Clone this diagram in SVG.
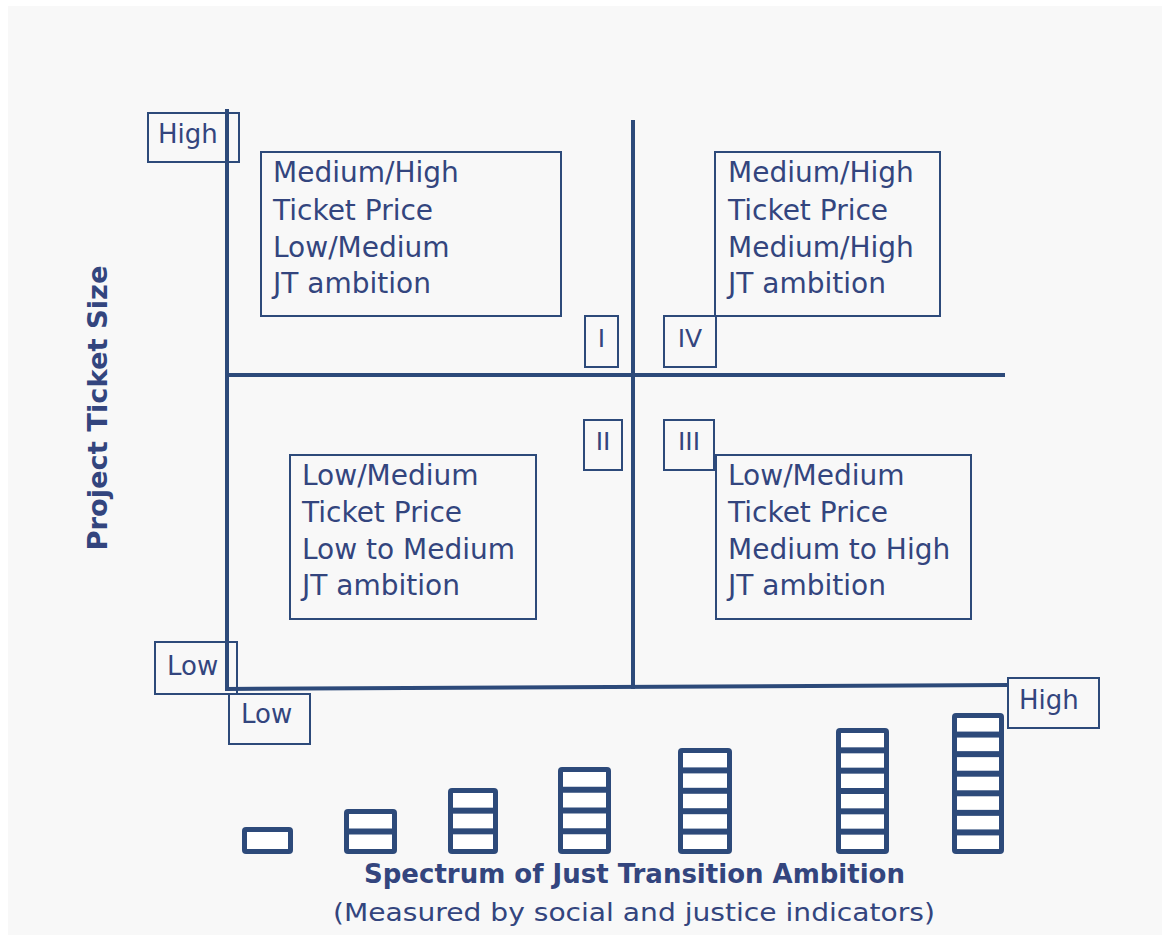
<svg xmlns="http://www.w3.org/2000/svg" width="1169" height="939" viewBox="0 0 1169 939">
<style>
.t{font-family:"DejaVu Sans","Liberation Sans",sans-serif;font-size:28px;fill:#33457e}
.lbl{font-family:"DejaVu Sans","Liberation Sans",sans-serif;font-size:26px;fill:#33457e}
.rn{font-family:"DejaVu Sans","Liberation Sans",sans-serif;font-size:25px;fill:#33457e}
.box{fill:none;stroke:#2d4a7a;stroke-width:2}
.ax{stroke:#2d4a7a;stroke-width:4;fill:none}
.bar{fill:#2d4a7a}
.cell{fill:#ffffff}
</style>
<rect x="0" y="0" width="1169" height="939" fill="#ffffff"/>
<rect x="8" y="6" width="1154" height="929" fill="#f8f8f8"/>

<g id="axes">
<line class="ax" x1="227" y1="109" x2="227" y2="691"/>
<path class="ax" d="M225 689 L1007 685"/>
<line class="ax" x1="633" y1="120" x2="633" y2="689" stroke-width="3.5"/>
<line class="ax" x1="227" y1="375" x2="1005" y2="375" stroke-width="3.5"/>
</g>

<g id="y-high"><rect class="box" x="148" y="113" width="91" height="49"/><text class="lbl" x="158" y="143">High</text></g>
<g id="y-low"><rect class="box" x="155" y="642" width="82" height="52"/><text class="lbl" x="167" y="675">Low</text></g>
<g id="x-low"><rect class="box" x="229" y="694" width="81" height="50"/><text class="lbl" x="241" y="723">Low</text></g>
<g id="x-high"><rect class="box" x="1008" y="678" width="91" height="50"/><text class="lbl" x="1019" y="709">High</text></g>

<g id="box-q1"><rect class="box" x="261" y="152" width="300" height="164"/>
<text class="t" x="273" y="182">Medium/High</text><text class="t" x="273" y="220">Ticket Price</text><text class="t" x="273" y="257">Low/Medium</text><text class="t" x="273" y="293">JT ambition</text></g>
<g id="box-q4"><rect class="box" x="715" y="152" width="225" height="164"/>
<text class="t" x="728" y="182">Medium/High</text><text class="t" x="728" y="220">Ticket Price</text><text class="t" x="728" y="257">Medium/High</text><text class="t" x="728" y="293">JT ambition</text></g>
<g id="box-q2"><rect class="box" x="290" y="455" width="246" height="164"/>
<text class="t" x="302" y="485">Low/Medium</text><text class="t" x="302" y="522">Ticket Price</text><text class="t" x="302" y="559">Low to Medium</text><text class="t" x="302" y="595">JT ambition</text></g>
<g id="box-q3"><rect class="box" x="716" y="455" width="255" height="164"/>
<text class="t" x="728" y="485">Low/Medium</text><text class="t" x="728" y="522">Ticket Price</text><text class="t" x="728" y="559">Medium to High</text><text class="t" x="728" y="595">JT ambition</text></g>

<g id="num-I"><rect class="box" x="585" y="316" width="33" height="51"/><text class="rn" x="601.5" y="347" text-anchor="middle">I</text></g>
<g id="num-IV"><rect class="box" x="664" y="316" width="52" height="51"/><text class="rn" x="690" y="347" text-anchor="middle">IV</text></g>
<g id="num-II"><rect class="box" x="584" y="420" width="38" height="50"/><text class="rn" x="603" y="450" text-anchor="middle">II</text></g>
<g id="num-III"><rect class="box" x="664" y="420" width="50" height="50"/><text class="rn" x="689" y="450" text-anchor="middle">III</text></g>

<g id="y-title"><text transform="translate(107,408) rotate(-90)" text-anchor="middle" font-family="DejaVu Sans, Liberation Sans, sans-serif" font-size="26" font-weight="bold" fill="#33457e" textLength="285" lengthAdjust="spacingAndGlyphs">Project Ticket Size</text></g>

<g id="bars">
<rect class="bar" x="242" y="827" width="51" height="27" rx="4"/>
<rect class="cell" x="247" y="832" width="41" height="17"/>

<rect class="bar" x="344" y="809" width="53" height="45" rx="4"/>
<rect class="cell" x="349" y="814" width="43" height="14.5"/><rect class="cell" x="349" y="834.5" width="43" height="14.5"/>

<rect class="bar" x="448" y="788" width="50" height="66" rx="4"/>
<rect class="cell" x="453" y="793" width="40" height="14.67"/><rect class="cell" x="453" y="813.67" width="40" height="14.67"/><rect class="cell" x="453" y="834.33" width="40" height="14.67"/>

<rect class="bar" x="558" y="767" width="53" height="87" rx="4"/>
<rect class="cell" x="563" y="772" width="43" height="14.75"/><rect class="cell" x="563" y="792.75" width="43" height="14.75"/><rect class="cell" x="563" y="813.5" width="43" height="14.75"/><rect class="cell" x="563" y="834.25" width="43" height="14.75"/>

<rect class="bar" x="678" y="748" width="54" height="106" rx="4"/>
<rect class="cell" x="683" y="753" width="44" height="14.4"/><rect class="cell" x="683" y="773.4" width="44" height="14.4"/><rect class="cell" x="683" y="793.8" width="44" height="14.4"/><rect class="cell" x="683" y="814.2" width="44" height="14.4"/><rect class="cell" x="683" y="834.6" width="44" height="14.4"/>

<rect class="bar" x="836" y="728" width="53" height="126" rx="4"/>
<rect class="cell" x="841" y="733" width="43" height="14.33"/><rect class="cell" x="841" y="753.33" width="43" height="14.33"/><rect class="cell" x="841" y="773.67" width="43" height="14.33"/><rect class="cell" x="841" y="794" width="43" height="14.33"/><rect class="cell" x="841" y="814.33" width="43" height="14.33"/><rect class="cell" x="841" y="834.67" width="43" height="14.33"/>

<rect class="bar" x="952" y="713" width="52" height="141" rx="4"/>
<rect class="cell" x="957" y="718" width="42" height="13.57"/><rect class="cell" x="957" y="737.57" width="42" height="13.57"/><rect class="cell" x="957" y="757.14" width="42" height="13.57"/><rect class="cell" x="957" y="776.71" width="42" height="13.57"/><rect class="cell" x="957" y="796.29" width="42" height="13.57"/><rect class="cell" x="957" y="815.86" width="42" height="13.57"/><rect class="cell" x="957" y="835.43" width="42" height="13.57"/>
</g>

<g id="x-title">
<text x="364" y="883" font-family="DejaVu Sans, Liberation Sans, sans-serif" font-size="26" font-weight="bold" fill="#33457e" textLength="541" lengthAdjust="spacingAndGlyphs">Spectrum of Just Transition Ambition</text>
<text x="333" y="921" font-family="DejaVu Sans, Liberation Sans, sans-serif" font-size="25" fill="#33457e" textLength="602" lengthAdjust="spacingAndGlyphs">(Measured by social and justice indicators)</text>
</g>
</svg>
